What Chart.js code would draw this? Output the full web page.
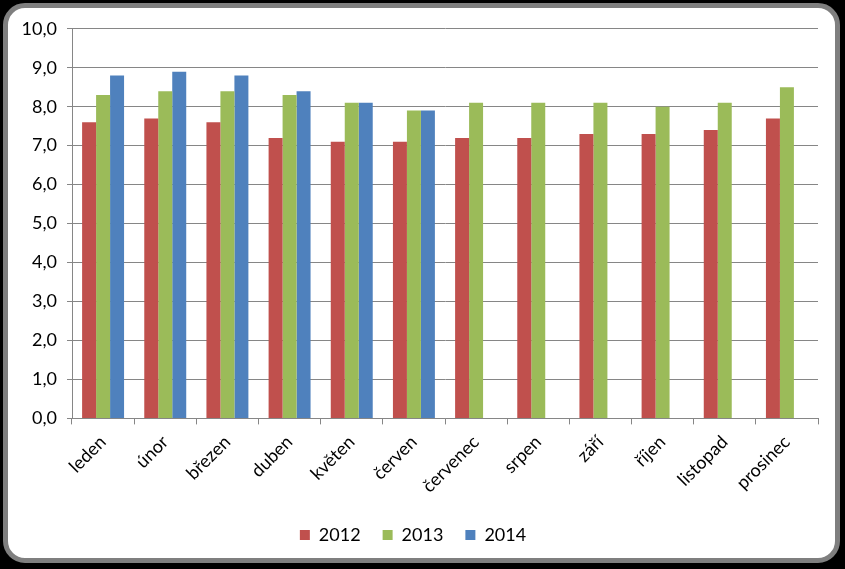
<!DOCTYPE html>
<html>
<head>
<meta charset="utf-8">
<script src="https://cdn.jsdelivr.net/npm/chart.js@4"></script>
<style>
  html, body { margin: 0; padding: 0; background: #000; }
  #frame {
    position: absolute; left: 3px; top: 3px;
    width: 827px; height: 550px;
    background: #fff;
    border: 5px solid #7f7f7f;
    border-radius: 22px;
  }
  #wrap { position: absolute; left: 0; top: 0; width: 827px; height: 550px; }
</style>
</head>
<body>
<div id="frame"><div id="wrap"><canvas id="chart"></canvas></div></div>
<script>
// months
const categories = ["leden", "únor", "březen", "duben", "květen", "červen",
  "červenec", "srpen", "září", "říjen", "listopad", "prosinec"];
const values2012 = [7.6, 7.7, 7.6, 7.2, 7.1, 7.1, 7.2, 7.2, 7.3, 7.3, 7.4, 7.7];
const values2013 = [8.3, 8.4, 8.4, 8.3, 8.1, 7.9, 8.1, 8.1, 8.1, 8.0, 8.1, 8.5];
const values2014 = [8.8, 8.9, 8.8, 8.4, 8.1, 7.9, null, null, null, null, null, null];
const yTicks = [0, 1, 2, 3, 4, 5, 6, 7, 8, 9, 10];

const font = { family: "Lato, 'Open Sans', sans-serif", size: 18 };
const gray = "#868686";

new Chart(document.getElementById("chart").getContext("2d"), {
  type: "bar",
  data: {
    labels: categories,
    datasets: [
      { label: "2012", data: values2012, backgroundColor: "#C0504D" },
      { label: "2013", data: values2013, backgroundColor: "#9BBB59" },
      { label: "2014", data: values2014, backgroundColor: "#4F81BD" }
    ]
  },
  options: {
    responsive: true,
    maintainAspectRatio: false,
    animation: false,
    categoryPercentage: 0.675,
    barPercentage: 1,
    layout: { padding: { left: 0, right: 17, top: 8, bottom: 4 } },
    plugins: {
      tooltip: { enabled: false },
      legend: {
        position: "bottom",
        labels: { color: "#000", font: font, boxWidth: 10, boxHeight: 10, padding: 22 }
      }
    },
    scales: {
      x: {
        grid: { drawOnChartArea: false, color: gray, tickLength: 6, offset: true },
        border: { color: gray },
        ticks: { color: "#000", font: font, minRotation: 45, maxRotation: 45, padding: 7 }
      },
      y: {
        min: 0, max: 10,
        afterBuildTicks: s => { s.ticks = yTicks.map(v => ({ value: v })); },
        afterFit: s => { s.width = 64; },
        grid: { color: gray, tickLength: 5 },
        border: { color: gray },
        ticks: {
          color: "#000", font: font, padding: 10,
          callback: v => v.toFixed(1).replace(".", ",")
        }
      }
    }
  }
});
</script>
</body>
</html>
